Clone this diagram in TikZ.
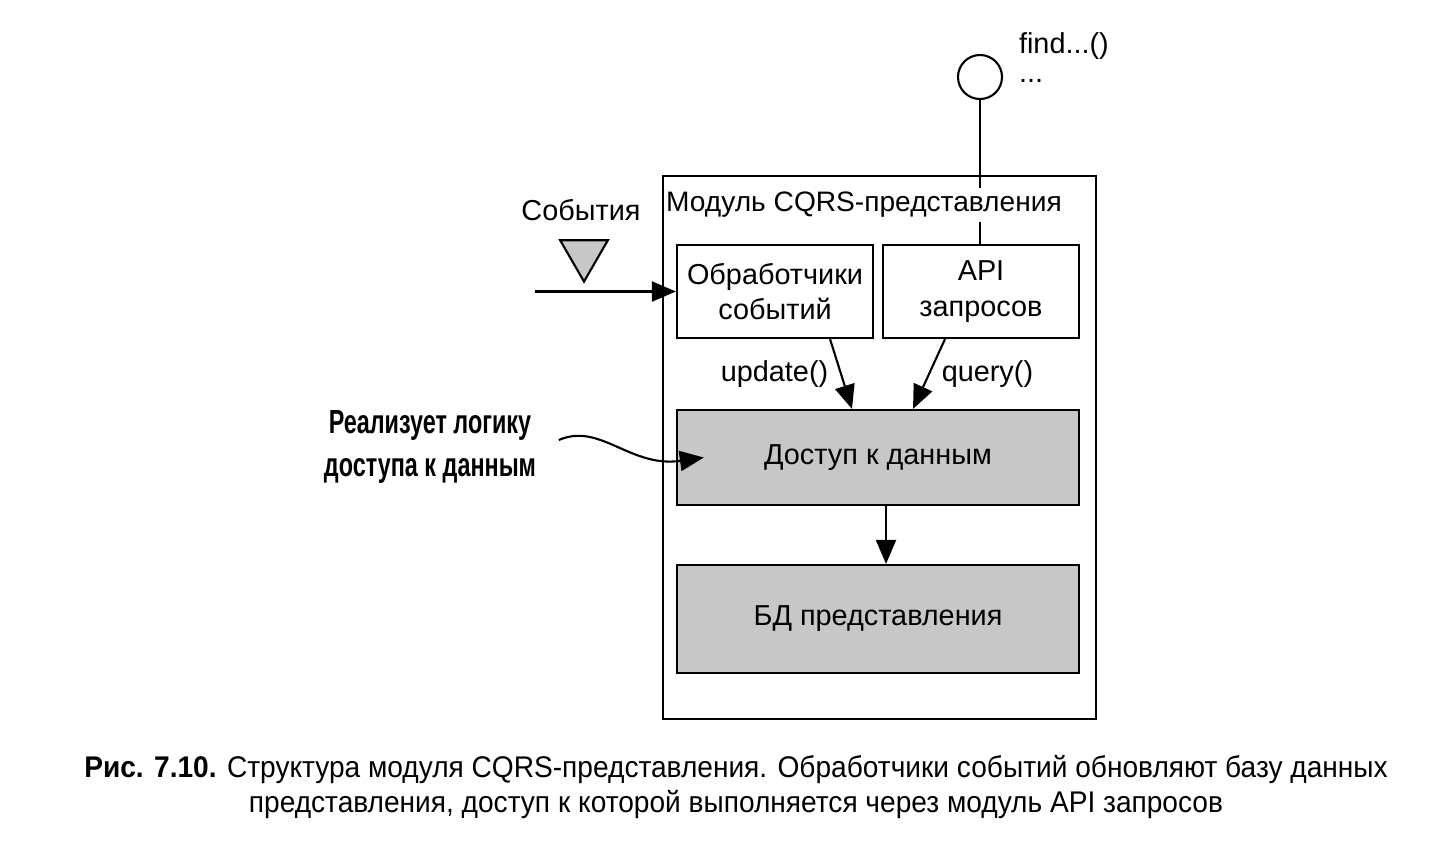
\documentclass[tikz,border=0pt]{standalone}
\usepackage{fontspec}
\setmainfont{Liberation Sans}
\newfontfamily\notefont[FakeStretch=0.7]{Liberation Sans}
\newfontfamily\capfont[FakeStretch=0.94]{Liberation Sans}
\usetikzlibrary{positioning, arrows.meta, shapes.geometric}
\tikzset{
	>={Triangle[length=2.4mm,width=2mm]}, % filled arrow heads
	every node/.style={font=\fontsize{8.2}{10}\selectfont},
	block/.style={draw, line width=0.6pt, minimum width=1.96cm, minimum height=0.93cm, align=center, inner sep=1pt},
	store/.style={draw, line width=0.6pt, fill=black!22, minimum width=4.02cm},
}
\begin{document}
\begin{tikzpicture}[x=0.01cm, y=-0.01cm, line width=0.6pt]
	\useasboundingbox (0,0) rectangle (1440,856);
	% Module frame and its parts
	\node[draw, line width=0.6pt, inner sep=0pt, minimum width=4.33cm, minimum height=5.43cm, anchor=north west] (module) at (662,175) {};
	\node[inner sep=1pt, font=\fontsize{8}{10}\selectfont] (title) at (864,205) {Модуль CQRS-представления};
	\node[block] (handlers) at (775,291.5) {Обработчики\\событий};
	\node[block] (api) at (981,291.5) {API\\запросов};
	\node[store, minimum height=0.95cm] (access) at (878,457.5) {Доступ к данным};
	\node[store, minimum height=1.08cm] (db) at (878,619) {БД представления};
	
	% Query interface
	\node[circle, draw, line width=0.6pt, minimum size=0.44cm, inner sep=0pt] (iface) at (980,77) {};
	\node[anchor=base west, inner sep=0pt] (find) at (1018,53) {find...()};
	\node[anchor=base west, inner sep=0pt] (more) at (1018,82) {...};
	\draw (iface.south) -- (iface.south |- title.north);
	\draw (iface.south |- title.south) -- (iface.south |- api.north);
	
	% Incoming events
	\node (evlabel) at (581,210) {События};
	\node[regular polygon, regular polygon sides=3, shape border rotate=180, draw, line width=0.6pt, fill=black!22, minimum size=0.55cm, inner sep=0pt] (evmark) at (584,254) {};
	\coordinate (evstart) at (535,291.5);
	\draw[->] (evstart) -- (handlers.west);
	
	% Calls inside the module
	\draw[->] ([xshift=0.55cm]handlers.south) -- ([xshift=-0.26cm]access.north) node[midway, left] (upd) {update()};
	\draw[->] ([xshift=-0.36cm]api.south) -- ([xshift=0.35cm]access.north) node[midway, right] (qry) {query()};
	\draw[->] ([xshift=0.08cm]access.south) -- ([xshift=0.08cm]db.north);
	
	% Annotation
	\node[align=center, font=\notefont\bfseries\fontsize{9.5}{12}\selectfont] (note) at (430,447) {Реализует логику\\доступа к данным};
	\coordinate (notetip) at ([xshift=0.28cm]access.west);
	\draw[->] ([xshift=0.1cm,yshift=0.07cm]note.east) .. controls (600,422) and (630,468) .. (notetip);
	
	% Caption
	\node[align=center, font=\capfont\fontsize{8.5}{10}\selectfont] (caption) at (736,787) {\textbf{Рис. 7.10.} Структура модуля CQRS-представления. Обработчики событий обновляют базу данных\\представления, доступ к которой выполняется через модуль API запросов};
\end{tikzpicture}
\end{document}
